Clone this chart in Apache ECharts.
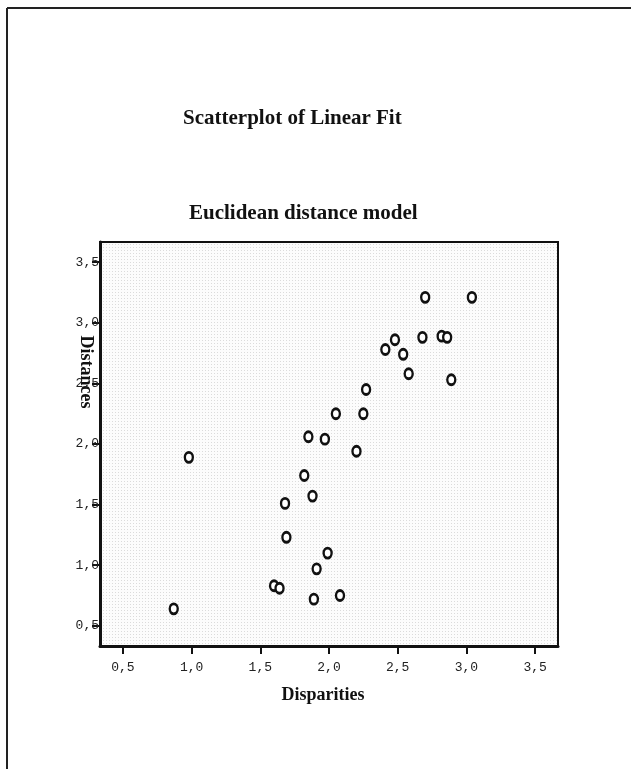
<!DOCTYPE html>
<html>
<head>
<meta charset="utf-8">
<script src="https://cdn.jsdelivr.net/npm/echarts@6.0.0/dist/echarts.min.js"></script>
<style>
  html, body { margin: 0; padding: 0; background: #fff; }
  #root { width: 631px; height: 769px; }
</style>
</head>
<body>
<div id="root"></div>
<script>
// disparities (x) and distances (y)
const disparities = [0.98, 0.87, 1.60, 1.64, 1.68, 1.69, 1.82, 1.88, 1.85, 1.97,
  2.05, 2.25, 1.91, 1.99, 1.89, 2.08, 2.20, 2.27, 2.41, 2.48,
  2.54, 2.58, 2.68, 2.70, 2.82, 2.86, 2.89, 3.04]
const distances = [1.89, 0.64, 0.83, 0.81, 1.51, 1.23, 1.74, 1.57, 2.06, 2.04,
  2.25, 2.25, 0.97, 1.10, 0.72, 0.75, 1.94, 2.45, 2.78, 2.86,
  2.74, 2.58, 2.88, 3.21, 2.89, 2.88, 2.53, 3.21]
const tickValues = [0.5, 1.0, 1.5, 2.0, 2.5, 3.0, 3.5]
const tickLabels = ['0,5', '1,0', '1,5', '2,0', '2,5', '3,0', '3,5']

const points = disparities.map((x, i) => [x, distances[i]])

// fine dot screen like the SPSS plot background
const dots = document.createElement('canvas')
dots.width = 3
dots.height = 3
const dctx = dots.getContext('2d')
dctx.fillStyle = '#fcfcfc'
dctx.fillRect(0, 0, 3, 3)
dctx.fillStyle = 'rgba(0,0,0,0.13)'
dctx.fillRect(1, 1, 1, 1)

const labelFor = (v) => tickLabels[tickValues.indexOf(Math.round(v * 10) / 10)] || ''

const chart = echarts.init(document.getElementById('root'))
chart.setOption({
  backgroundColor: '#fff',
  animation: false,
  title: [
    {
      text: 'Scatterplot of Linear Fit',
      left: 178, top: 103,
      textStyle: { fontFamily: 'Liberation Serif', fontWeight: 'bold', fontSize: 21, color: '#111' }
    },
    {
      text: 'Euclidean distance model',
      left: 184, top: 198,
      textStyle: { fontFamily: 'Liberation Serif', fontWeight: 'bold', fontSize: 21, color: '#111' }
    }
  ],
  grid: {
    left: 100, right: 73, top: 242, bottom: 123,
    show: true,
    backgroundColor: { image: dots, repeat: 'repeat' },
    borderColor: '#111',
    borderWidth: 2
  },
  xAxis: {
    type: 'value',
    min: 1 / 3, max: 11 / 3,
    name: 'Disparities',
    nameLocation: 'middle',
    nameGap: 40,
    nameMoveOverlap: false,
    nameTextStyle: { fontFamily: 'Liberation Serif', fontWeight: 'bold', fontSize: 18, color: '#111', padding: [0, 12, 0, 0] },
    axisLine: { show: true, lineStyle: { color: '#111', width: 3 } },
    axisTick: { show: true, length: 8, customValues: tickValues, lineStyle: { color: '#111', width: 2 } },
    axisLabel: {
      customValues: tickValues, margin: 15, formatter: labelFor,
      fontFamily: 'Liberation Mono', fontSize: 13, color: '#222'
    },
    splitLine: { show: false }
  },
  yAxis: {
    type: 'value',
    min: 1 / 3, max: 11 / 3,
    name: 'Distances',
    nameLocation: 'middle',
    nameRotate: -90,
    nameGap: 5,
    nameMoveOverlap: false,
    nameTextStyle: { fontFamily: 'Liberation Serif', fontWeight: 'bold', fontSize: 18, color: '#111', padding: [0, 144, 0, 0] },
    axisLine: { show: true, lineStyle: { color: '#111', width: 3 } },
    axisTick: { show: true, length: 8, customValues: tickValues, lineStyle: { color: '#111', width: 2 } },
    axisLabel: {
      customValues: tickValues, margin: 1, formatter: labelFor,
      fontFamily: 'Liberation Mono', fontSize: 13, color: '#222'
    },
    splitLine: { show: false }
  },
  graphic: [
    { type: 'line', shape: { x1: 7, y1: 8, x2: 631, y2: 8 }, style: { stroke: '#222', lineWidth: 2 } },
    { type: 'line', shape: { x1: 7, y1: 8, x2: 7, y2: 769 }, style: { stroke: '#222', lineWidth: 2 } }
  ],
  series: [
    {
      type: 'scatter',
      data: points,
      symbol: 'circle',
      symbolSize: [8, 10],
      itemStyle: { color: '#fff', borderColor: '#111', borderWidth: 2.6, opacity: 1 },
      emphasis: { disabled: true }
    }
  ]
})
</script>
</body>
</html>
